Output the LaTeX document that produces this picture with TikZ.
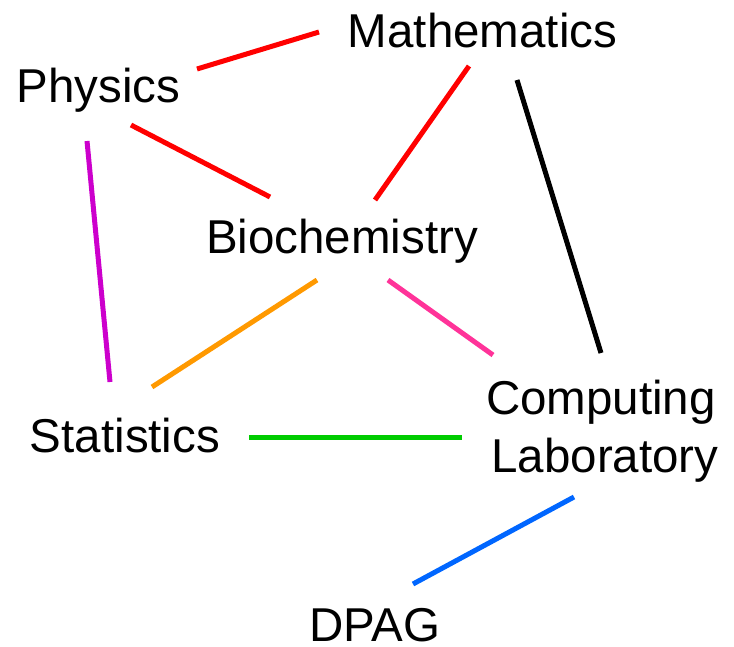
\documentclass[tikz,border=0pt]{standalone}
\usepackage{fontspec}
\setmainfont{Liberation Sans}
\definecolor{cred}{RGB}{255,0,0}
\definecolor{cpurple}{RGB}{204,0,204}
\definecolor{corange}{RGB}{255,153,0}
\definecolor{cpink}{RGB}{255,51,153}
\definecolor{cgreen}{RGB}{0,204,0}
\definecolor{cblue}{RGB}{0,102,255}
\begin{document}
\begin{tikzpicture}[x=1pt,y=-1pt,
  lbl/.style={font=\fontsize{47.5}{58}\selectfont, inner sep=0pt, align=center},
  link/.style={line width=5pt}]
\useasboundingbox (0,0) rectangle (734,646);
\node[lbl,anchor=base] (math) at (482.5,47) {Mathematics};
\node[lbl,anchor=base] (phys) at (98.5,102) {Physics};
\node[lbl,anchor=base] (bio) at (342,253) {Biochemistry};
\node[lbl,anchor=base] (stat) at (125,452) {Statistics};
\node[lbl,anchor=center] (comp) at (601,431.5) {Computing\\\hspace*{8pt}Laboratory};
\node[lbl,anchor=base] (dpag) at (375,641) {DPAG};
\draw[link,cred] ([shift={(98.5,-33)}]phys.base) -- ([shift={(-163.5,-15)}]math.base);
\draw[link,cred] ([shift={(-13.5,19)}]math.base) -- ([shift={(33,-53)}]bio.base);
\draw[link,cred] ([shift={(32.5,23)}]phys.base) -- ([shift={(-72,-56)}]bio.base);
\draw[link,black] ([shift={(34.5,33)}]math.base) -- ([shift={(0,-78.5)}]comp.center);
\draw[link,cpurple] ([shift={(-11.5,39)}]phys.base) -- ([shift={(-15,-70)}]stat.base);
\draw[link,corange] ([shift={(-25,27)}]bio.base) -- ([shift={(27,-65)}]stat.base);
\draw[link,cpink] ([shift={(46,27)}]bio.base) -- ([shift={(-108,-76.5)}]comp.center);
\draw[link,cgreen] ([shift={(124,-15)}]stat.base) -- ([shift={(-139,5.5)}]comp.center);
\draw[link,cblue] ([shift={(-27,65.5)}]comp.center) -- ([shift={(38,-57)}]dpag.base);
\end{tikzpicture}
\end{document}
